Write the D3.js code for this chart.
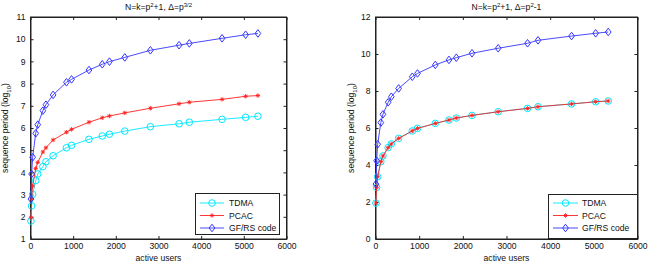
<!DOCTYPE html>
<html>
<head>
<meta charset="utf-8">
<script src="https://cdn.jsdelivr.net/npm/d3@7"></script>
<style>
  body { margin: 0; background: #fff; }
  svg { display: block; font-family: "Liberation Sans", Arial, sans-serif; }
</style>
</head>
<body>
<svg id="chart" width="650" height="262"></svg>
<script>
// active users N = p^2+1 for odd primes p = 3..73
var users = [10, 26, 50, 122, 170, 290, 362, 530, 842, 962, 1370, 1682, 1850, 2210, 2810, 3482, 3722, 4490, 5042, 5330];

// left panel: delta = p^(3/2)
var tdmaL = [1.81, 2.49, 3.01, 3.63, 3.93, 4.26, 4.48, 4.75, 5.11, 5.22, 5.49, 5.64, 5.72, 5.86, 6.06, 6.19, 6.26, 6.39, 6.48, 6.53];
var pcacL = [1.96, 2.80, 3.39, 4.18, 4.45, 4.92, 5.11, 5.46, 5.81, 5.94, 6.26, 6.46, 6.54, 6.68, 6.89, 7.09, 7.16, 7.29, 7.43, 7.46];
var gfrsL = [2.80, 3.93, 4.68, 5.76, 6.15, 6.78, 7.05, 7.49, 8.06, 8.19, 8.61, 8.87, 8.99, 9.18, 9.50, 9.73, 9.81, 10.04, 10.20, 10.26];

// right panel: delta = p^2-1
var tdmaR = [1.94, 2.79, 3.37, 4.18, 4.49, 4.94, 5.14, 5.44, 5.84, 5.98, 6.25, 6.43, 6.54, 6.68, 6.88, 7.06, 7.15, 7.30, 7.42, 7.46];
var pcacR = [1.94, 2.79, 3.37, 4.18, 4.49, 4.94, 5.14, 5.44, 5.84, 5.98, 6.25, 6.43, 6.54, 6.68, 6.88, 7.06, 7.15, 7.30, 7.42, 7.46];
var gfrsR = [2.97, 4.23, 5.12, 6.29, 6.74, 7.39, 7.69, 8.14, 8.77, 8.95, 9.41, 9.68, 9.80, 10.04, 10.31, 10.58, 10.74, 10.97, 11.12, 11.19];

var xTicks = [0, 1000, 2000, 3000, 4000, 5000, 6000];
var yTicksL = [1, 2, 3, 4, 5, 6, 7, 8, 9, 10, 11];
var yTicksR = [0, 2, 4, 6, 8, 10, 12];
var legendNames = ["TDMA", "PCAC", "GF/RS code"];
var colors = {tdma: "#00e8ff", pcac: "#ff2020", gfrs: "#3535ff"};

var svg = d3.select("#chart");

function asterisk(g, x, y, c) {
    var r = 2.2, d = r * 0.72;
    g.append("path")
        .attr("d", "M" + (x - r) + "," + y + "H" + (x + r) +
                   "M" + x + "," + (y - r) + "V" + (y + r) +
                   "M" + (x - d) + "," + (y - d) + "L" + (x + d) + "," + (y + d) +
                   "M" + (x - d) + "," + (y + d) + "L" + (x + d) + "," + (y - d))
        .attr("stroke", c).attr("stroke-width", 0.9).attr("fill", "none");
}

function marker(g, kind, x, y) {
    if (kind == "tdma") {
        g.append("circle").attr("cx", x).attr("cy", y).attr("r", 3.3)
            .attr("fill", "none").attr("stroke", colors.tdma).attr("stroke-width", 1);
    } else if (kind == "pcac") {
        asterisk(g, x, y, colors.pcac);
    } else {
        var s = 3.8;
        g.append("path")
            .attr("d", "M" + x + "," + (y - s) + "L" + (x + s * 0.75) + "," + y + "L" + x + "," + (y + s) + "L" + (x - s * 0.75) + "," + y + "Z")
            .attr("fill", "none").attr("stroke", colors.gfrs).attr("stroke-width", 1);
    }
}

function panel(opts) {
    var x = d3.scaleLinear().domain([0, 6000]).range([opts.left, opts.right]),
        y = d3.scaleLinear().domain(opts.ydom).range([239, 17]);
    var g = svg.append("g");
    var tick = 3;

    // box
    g.append("rect").attr("x", opts.left).attr("y", 17)
        .attr("width", opts.right - opts.left).attr("height", 222)
        .attr("fill", "#fff").attr("stroke", "#222").attr("stroke-width", 1);

    var axB = g.append("g").attr("transform", "translate(0,239)")
        .call(d3.axisBottom(x).tickValues(xTicks).tickSizeInner(-tick).tickSizeOuter(0).tickPadding(4).tickFormat(d3.format("d")));
    var axT = g.append("g").attr("transform", "translate(0,17)")
        .call(d3.axisTop(x).tickValues(xTicks).tickSizeInner(-tick).tickSizeOuter(0).tickFormat(""));
    var axL = g.append("g").attr("transform", "translate(" + opts.left + ",0)")
        .call(d3.axisLeft(y).tickValues(opts.yticks).tickSizeInner(-tick).tickSizeOuter(0).tickPadding(5));
    var axR = g.append("g").attr("transform", "translate(" + opts.right + ",0)")
        .call(d3.axisRight(y).tickValues(opts.yticks).tickSizeInner(-tick).tickSizeOuter(0).tickFormat(""));
    [axB, axT, axL, axR].forEach(a => {
        a.select(".domain").attr("stroke", "#222");
        a.selectAll(".tick line").attr("stroke", "#222");
        a.selectAll("text").attr("font-size", 8.6).attr("fill", "#111")
            .attr("font-family", "Liberation Sans, Arial, sans-serif");
    });

    // series
    var series = [["tdma", opts.tdma], ["pcac", opts.pcac], ["gfrs", opts.gfrs]];
    var line = d3.line().x(d => x(d[0])).y(d => y(d[1]));
    series.forEach(s => {
        var pts = users.map((u, i) => [u, s[1][i]]);
        g.append("path").attr("d", line(pts)).attr("fill", "none")
            .attr("stroke", colors[s[0]]).attr("stroke-width", 0.9);
        pts.forEach(p => marker(g, s[0], x(p[0]), y(p[1])));
    });

    // title
    var cx = (opts.left + opts.right) / 2;
    var t = g.append("text").attr("x", cx).attr("y", 10).attr("text-anchor", "middle")
        .attr("font-size", 8.6).attr("fill", "#111");
    t.append("tspan").text("N=k=p");
    t.append("tspan").text("2").attr("font-size", 6).attr("dy", -3.5);
    t.append("tspan").text("+1, \u0394=p").attr("dy", 3.5);
    t.append("tspan").text(opts.sup).attr("font-size", 6).attr("dy", -3.5);
    if (opts.tail) t.append("tspan").text(opts.tail).attr("dy", 3.5);

    // x label
    g.append("text").attr("x", cx).attr("y", 261).attr("text-anchor", "middle")
        .attr("font-size", 8.6).attr("fill", "#111").text("active users");

    // y label
    var yl = g.append("text").attr("transform", "translate(" + opts.ylabX + ",128) rotate(-90)")
        .attr("text-anchor", "middle").attr("font-size", 8.6).attr("fill", "#111");
    yl.append("tspan").text("sequence period (log");
    yl.append("tspan").text("10").attr("font-size", 6).attr("dy", 2.5);
    yl.append("tspan").text(")").attr("dy", -2.5);

    // legend
    var L = opts.legend;
    var lg = g.append("g");
    lg.append("rect").attr("x", L.x0).attr("y", L.y0).attr("width", L.x1 - L.x0).attr("height", L.y1 - L.y0)
        .attr("fill", "#fff").attr("stroke", "#222").attr("stroke-width", 1);
    ["tdma", "pcac", "gfrs"].forEach((k, i) => {
        var ry = L.rows[i];
        lg.append("line").attr("x1", L.lx0).attr("x2", L.lx1).attr("y1", ry).attr("y2", ry)
            .attr("stroke", colors[k]).attr("stroke-width", 0.9);
        marker(lg, k, (L.lx0 + L.lx1) / 2, ry);
        lg.append("text").attr("x", L.tx).attr("y", ry + 3).attr("font-size", 8.6)
            .attr("fill", "#111").text(legendNames[i]);
    });
}

panel({
    left: 30.5, right: 286.5, ydom: [1, 11], yticks: yTicksL,
    tdma: tdmaL, pcac: pcacL, gfrs: gfrsL, sup: "3/2", tail: "", ylabX: 8,
    legend: {x0: 195.5, x1: 279.5, y0: 193.5, y1: 234.5, lx0: 200, lx1: 224, tx: 229, rows: [203, 215.5, 228]}
});

panel({
    left: 375.5, right: 637.5, ydom: [0, 12], yticks: yTicksR,
    tdma: tdmaR, pcac: pcacR, gfrs: gfrsR, sup: "2", tail: "-1", ylabX: 354,
    legend: {x0: 548.5, x1: 637.5, y0: 194.5, y1: 238.5, lx0: 553, lx1: 578, tx: 582, rows: [203, 215.5, 228]}
});
</script>
</body>
</html>
